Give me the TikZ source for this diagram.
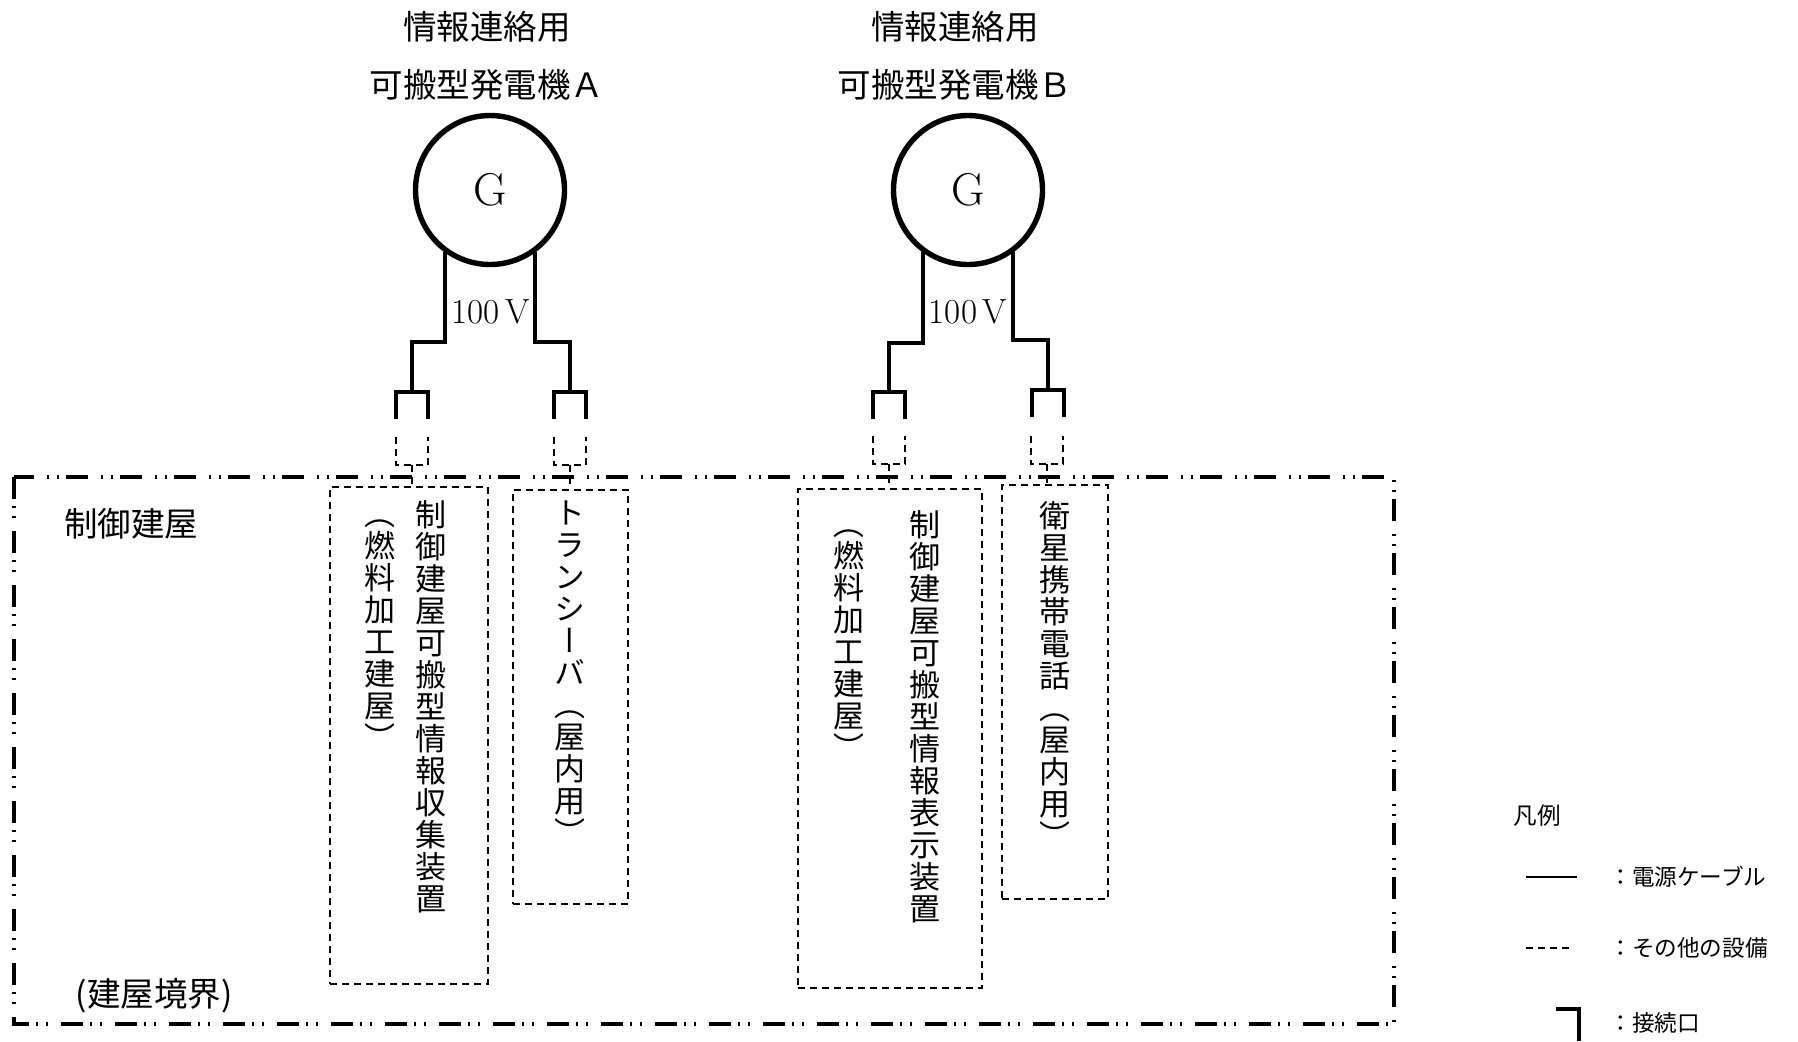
\documentclass[tikz,border=0pt]{standalone}
\usepackage{fontspec}
\usepackage{tikz}
\usetikzlibrary{calc}
\usetikzlibrary{positioning}
\newfontfamily\jp{Noto Sans CJK JP}
\newfontfamily\jpv[RawFeature=+vert]{Noto Sans CJK JP}
\tikzstyle{gen} = [circle, draw=black, line width=2.7pt, minimum size=74.5pt, inner sep=0pt, font=\fontsize{23pt}{25pt}\selectfont]
\tikzstyle{cable} = [draw=black, line width=2pt]
\tikzstyle{plug} = [draw=black, line width=2.1pt]
\tikzstyle{equip} = [draw=black, line width=1.05pt, dash pattern=on 3.5pt off 2.5pt]
\tikzstyle{bound} = [draw=black, line width=1.6pt, dash pattern=on 11pt off 3.5pt on 1.2pt off 3.8pt on 1.2pt off 6.3pt]
\tikzstyle{title} = [align=center, font=\jp\fontsize{16.75pt}{29pt}\selectfont]
\tikzstyle{vtext} = [align=center, anchor=north, inner sep=0pt, font=\jpv\fontsize{15.5pt}{16pt}\selectfont]
\tikzstyle{legend} = [anchor=west, inner sep=0pt, font=\jp\fontsize{11.3pt}{12pt}\selectfont]

\begin{document}
\begin{tikzpicture}[x=0.5pt, y=-0.5pt]
\useasboundingbox (0, 0) rectangle (1798, 1041);

% generators
\node [title] (TA) at (487, 56) {情報連絡用\\可搬型発電機Ａ};
\node [title] (TB) at (955, 56) {情報連絡用\\可搬型発電機Ｂ};
\node [gen] (GA) at (490, 190) {G};
\node [gen] (GB) at (968, 190) {G};
\node [font=\fontsize{17.5pt}{19pt}\selectfont] (VA) at (491, 312) {100\,V};
\node [font=\fontsize{17.5pt}{19pt}\selectfont] (VB) at (968, 312) {100\,V};

% cables and plugs
\coordinate (kA1) at (412, 342);
\coordinate (kA2) at (570, 342);
\coordinate (kB1) at (889, 343);
\coordinate (kB2) at (1048, 340);
\coordinate (SA1) at (412, 392);
\coordinate (SA2) at (570, 392);
\coordinate (SB1) at (889, 392);
\coordinate (SB2) at (1048, 390);
\draw [cable] (GA.-126) |- (kA1) -- (SA1);
\draw [cable] (GA.-54) |- (kA2) -- (SA2);
\draw [cable] (GB.-126) |- (kB1) -- (SB1);
\draw [cable] (GB.-54) |- (kB2) -- (SB2);
\foreach \s in {SA1, SA2, SB1, SB2}
  \draw [plug] ($(\s)+(-16, 27)$) -- ++(0, -27) -- ++(32, 0) -- ++(0, 27);

% building
\draw [bound] (14, 477) rectangle (1394, 1024);
\node [font=\jp\fontsize{16.75pt}{18pt}\selectfont] (BN) at (131, 524) {制御建屋};
\node [font=\jp\fontsize{16.75pt}{18pt}\selectfont] (BE) at (154, 996) {(建屋境界)};

% equipment
\node [equip, minimum width=79pt, minimum height=248.5pt] (IA1) at (409, 735.5) {};
\node [equip, minimum width=57.5pt, minimum height=207pt] (IA2) at (570.5, 697) {};
\node [equip, minimum width=92pt, minimum height=249.5pt] (IB1) at (890, 738.5) {};
\node [equip, minimum width=53pt, minimum height=207pt] (IB2) at (1055, 692) {};

\node [vtext] (TA1) at (431, 500) {制\\御\\建\\屋\\可\\搬\\型\\情\\報\\収\\集\\装\\置};
\node [vtext] (TA1b) at (380, 500) {\vphantom{国}（\\燃\\料\\加\\工\\建\\屋\\）};
\node [vtext] (TA2) at (570, 500) {ト\\ラ\\ン\\シ\\ー\\バ\\（\\屋\\内\\用\\）};
\node [vtext] (TB1) at (925, 510) {制\\御\\建\\屋\\可\\搬\\型\\情\\報\\表\\示\\装\\置};
\node [vtext] (TB1b) at (849, 510) {\vphantom{国}（\\燃\\料\\加\\工\\建\\屋\\）};
\node [vtext] (TB2) at (1055, 501) {衛\\星\\携\\帯\\電\\話\\（\\屋\\内\\用\\）};

% receptacles
\coordinate (RA1) at (412, 465);
\coordinate (RA2) at (570, 465);
\coordinate (RB1) at (889, 464);
\coordinate (RB2) at (1047, 464);
\foreach \r in {RA1, RA2, RB1, RB2}
  \draw [equip] ($(\r)+(-16, -28)$) -- ++(0, 28) -- ++(32, 0) -- ++(0, -28);
\draw [equip] (RA1) -- (RA1 |- IA1.north);
\draw [equip] (RA2) -- (RA2 |- IA2.north);
\draw [equip] (RB1) -- (RB1 |- IB1.north);
\draw [equip] (RB2) -- (RB2 |- IB2.north);

% legend
\node [legend, anchor=center, font=\jp\fontsize{11.8pt}{12pt}\selectfont] (LG) at (1537, 816) {凡例};
\draw [line width=0.9pt] (1526, 877) -- (1577, 877);
\draw [equip] (1526, 948) -- (1572, 948);
\draw [line width=1.7pt] (1556, 1009) -- (1579, 1009) -- (1579, 1041);
\node [legend] (L1) at (1609, 877) {：電源ケーブル};
\node [legend] (L2) at (1609, 948) {：その他の設備};
\node [legend] (L3) at (1609, 1023) {：接続口};
\end{tikzpicture}
\end{document}
